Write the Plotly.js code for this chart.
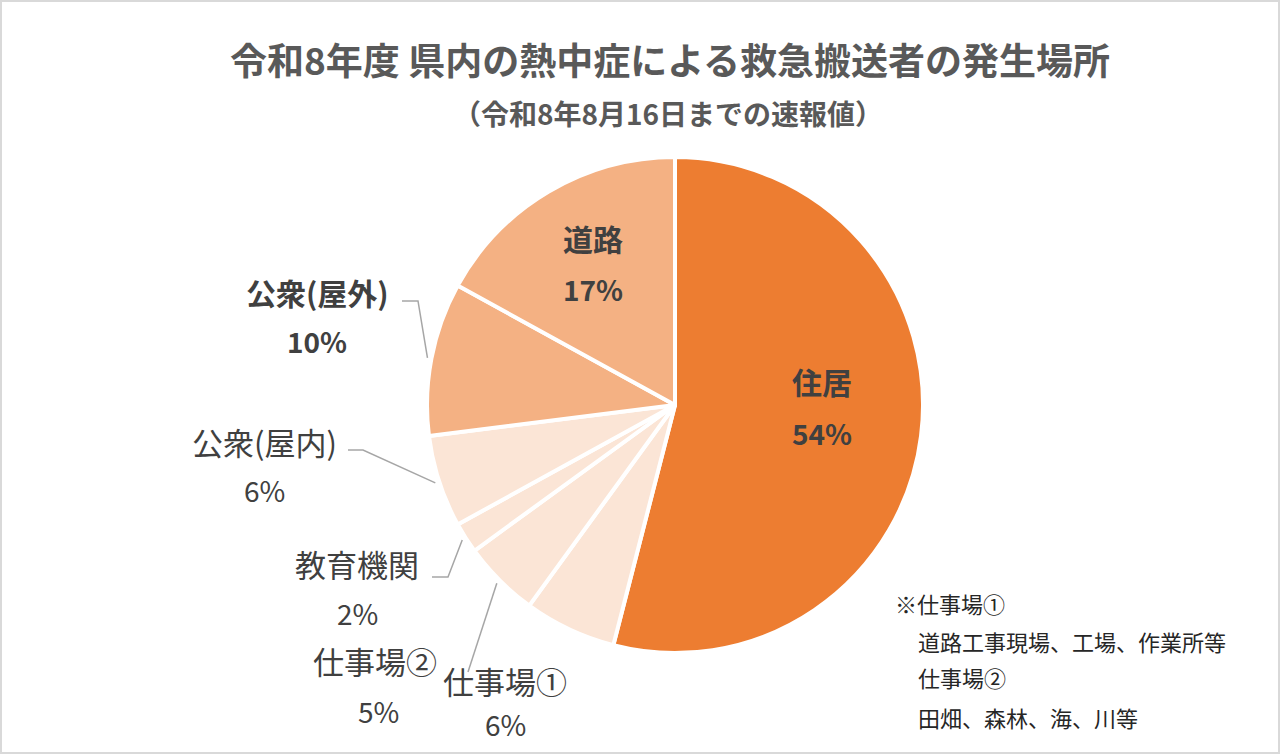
<!DOCTYPE html>
<html>
<head>
<meta charset="utf-8">
<script src="https://cdn.plot.ly/plotly-3.0.1.min.js"></script>
<style>
  html, body { margin: 0; padding: 0; background: #fff; }
  #chart { width: 1280px; height: 754px; }
</style>
</head>
<body>
<div id="chart"></div>
<script>
// slices, clockwise from 12 o'clock
var labels = ['住居', '仕事場①', '仕事場②', '教育機関', '公衆(屋内)', '公衆(屋外)', '道路'];
var values = [54, 6, 5, 2, 6, 10, 17];
var colors = ['#ED7D31', '#FBE5D6', '#FBE5D6', '#FBE5D6', '#FBE5D6', '#F4B183', '#F4B183'];
var isBold = [true, false, false, false, false, true, true];

var titleText = '令和8年度 県内の熱中症による救急搬送者の発生場所';
var subtitleText = '（令和8年8月16日までの速報値）';
var noteLines = ['※仕事場①', '道路工事現場、工場、作業所等', '仕事場②', '田畑、森林、海、川等'];

var W = 1280, H = 754;
var cx = 675, cy = 405, R = 248;     // pie centre / radius in px
var font = '"Noto Sans CJK JP", "Noto Sans", sans-serif';

// label placement (px): [nameX, nameY, pctX, pctY]
var labelPos = [
  [822, 381, 822, 433],
  [505, 680, 505, 724],
  [375, 660, 378, 711],
  [357, 563, 357, 613],
  [264, 441, 264, 490],
  [317, 292, 317, 341],
  [593, 238, 593, 289]
];
// leader line start + elbow (px), null = no leader
var leaderPos = [null, null, [[468, 672]], [[432, 577], [448, 577]],
                 [[348, 450], [363, 450]], [[402, 301], [418, 301]], null];

function px(x) { return x / W; }
function py(y) { return 1 - y / H; }

var total = values.reduce(function (a, b) { return a + b; }, 0);
var annotations = [];
var shapes = [];
var cum = 0;
for (var i = 0; i < values.length; i++) {
  var mid = (cum + values[i] / 2) / total * 2 * Math.PI;
  cum += values[i];
  var pct = Math.round(values[i] / total * 100) + '%';
  var p = labelPos[i];
  var bold = isBold[i];
  var fsz = bold ? 30 : 31;
  var nm = bold ? '<b>' + labels[i] + '</b>' : labels[i];
  var pc = bold ? '<b>' + pct + '</b>' : pct;
  annotations.push({x: px(p[0]), y: py(p[1]), xref: 'paper', yref: 'paper', text: nm,
    showarrow: false, xanchor: 'center', yanchor: 'middle',
    font: {family: font, size: fsz, color: '#404040'}});
  annotations.push({x: px(p[2]), y: py(p[3]), xref: 'paper', yref: 'paper', text: pc,
    showarrow: false, xanchor: 'center', yanchor: 'middle',
    font: {family: font, size: 28, color: '#404040'}});
  if (leaderPos[i]) {
    var ex = cx + 252 * Math.sin(mid);
    var ey = cy - 252 * Math.cos(mid);
    var pts = leaderPos[i].concat([[ex, ey]]);
    var path = pts.map(function (q, k) {
      return (k ? 'L' : 'M') + px(q[0]).toFixed(5) + ',' + py(q[1]).toFixed(5);
    }).join(' ');
    shapes.push({type: 'path', xref: 'paper', yref: 'paper', path: path,
      line: {color: '#A6A6A6', width: 1.5}});
  }
}

annotations.push({x: px(668), y: py(113), xref: 'paper', yref: 'paper',
  text: '<b>' + subtitleText + '</b>', showarrow: false, xanchor: 'center', yanchor: 'middle',
  font: {family: font, size: 28, color: '#595959'}});

var noteX = [893, 916, 916, 916];
var noteY = [603, 641, 677, 717];
for (var n = 0; n < noteLines.length; n++) {
  annotations.push({x: px(noteX[n]), y: py(noteY[n]), xref: 'paper', yref: 'paper',
    text: noteLines[n], showarrow: false, xanchor: 'left', yanchor: 'middle',
    font: {family: font, size: 22, color: '#262626'}});
}

shapes.push({type: 'rect', xref: 'paper', yref: 'paper', x0: 0, x1: 1, y0: 0, y1: 1,
  line: {color: '#D9D9D9', width: 4}});

var trace = [{
  type: 'pie',
  labels: labels,
  values: values,
  sort: false,
  direction: 'clockwise',
  rotation: 0,
  textinfo: 'none',
  hoverinfo: 'none',
  marker: {colors: colors, line: {color: '#FFFFFF', width: 4}},
  domain: {x: [px(cx - R), px(cx + R)], y: [py(cy + R), py(cy - R)]}
}];

var layout = {
  width: W,
  height: H,
  margin: {l: 0, r: 0, t: 0, b: 0, pad: 0},
  paper_bgcolor: '#FFFFFF',
  showlegend: false,
  title: {text: '<b>' + titleText + '</b>', x: px(670), xanchor: 'center',
    y: py(62), yanchor: 'middle', yref: 'paper',
    font: {family: font, size: 37, color: '#595959'}},
  annotations: annotations,
  shapes: shapes
};

Plotly.newPlot('chart', trace, layout, {displayModeBar: false, staticPlot: true});
</script>
</body>
</html>
